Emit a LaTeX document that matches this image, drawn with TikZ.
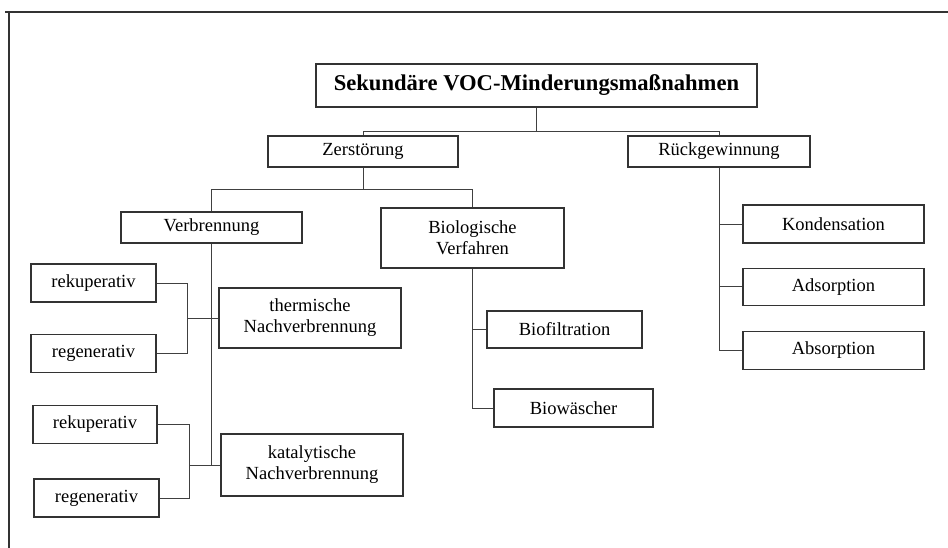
\documentclass[tikz,border=0pt]{standalone}
\usepackage{fontspec}
\setmainfont{Liberation Serif}
\usetikzlibrary{positioning}

\begin{document}
\begin{tikzpicture}[x=1pt,y=-1pt,
	every node/.style={font=\fontsize{18.5}{21}\selectfont},
	box/.style={draw=black!80,line width=1.1pt,align=center,inner sep=0pt},
	wide/.style={box,minimum width=182pt,minimum height=31pt},
	tall/.style={box,minimum width=182pt,minimum height=60pt},
	small/.style={box,minimum width=125pt,minimum height=38pt},
	conn/.style={draw=black!75,line width=0.9pt},
	hv/.style={to path={-| (\tikztotarget) \tikztonodes}},
	vh/.style={to path={|- (\tikztotarget) \tikztonodes}}]
	\useasboundingbox (0,0) rectangle (948,548);
	\draw[line width=1.1pt,black!80] (5,12) -- (948,12) (9,12) -- (9,548);

	\node[box,minimum width=441pt,minimum height=43pt,font=\fontsize{22.6}{26}\selectfont\bfseries] (title) at (536.5,85.5) {Sekundäre VOC-Minderungsmaßnahmen};
	\node[wide,minimum width=190pt] (zer) at (363,151.5) {Zerstörung};
	\node[wide] (rueck) at (719,151.5) {Rückgewinnung};
	\node[wide,minimum width=181pt] (verb) at (211.5,227.5) {Verbrennung};
	\node[tall,minimum width=183pt] (bio) at (472.5,238) {Biologische\\Verfahren};
	\node[tall] (therm) at (310,318) {thermische\\Nachverbrennung};
	\node[tall,minimum height=62pt] (kat) at (312,465) {katalytische\\Nachverbrennung};

	\node[small] (rek1) at (93.5,283) {rekuperativ};
	\node[small] (reg1) [below=31pt of rek1] {regenerativ};
	\node[small,minimum width=124pt] (rek2) at (95,424.5) {rekuperativ};
	\node[small] (reg2) at (96.5,498) {regenerativ};

	\node[small,minimum width=155pt,minimum height=37pt] (biofil) at (564.5,329.5) {Biofiltration};
	\node[small,minimum width=159pt] (biow) at (573.5,408) {Biowäscher};

	\node[small,minimum width=181pt] (kond) at (833.5,224) {Kondensation};
	\node[small,minimum width=181pt,minimum height=37pt] (ads) [below=24pt of kond] {Adsorption};
	\node[small,minimum width=181pt] (abs) [below=25pt of ads] {Absorption};

	\coordinate (j0) at (536.5,131);
	\coordinate (j1) at (363,189);
	\coordinate (k1) at ([xshift=-31pt]therm.west);
	\coordinate (k2) at ([xshift=-31pt]kat.west);

	\path[conn]
	(title) edge (j0)
	(j0) edge[hv] (zer.north)
	(j0) edge[hv] (rueck.north)
	(zer) edge (j1)
	(j1) edge[hv] (verb.north)
	(j1) edge[hv] (bio.north)

	(verb.south) edge[vh] (kat.west)
	(k1) edge (therm.west)
	(k2) edge (kat.west)
	(rek1.east) edge[hv] (k1)
	(reg1.east) edge[hv] (k1)
	(rek2.east) edge[hv] (k2)
	(reg2.east) edge[hv] (k2)

	(bio.south) edge[vh] (biow.west)
	(bio.south |- biofil.west) edge (biofil.west)

	(rueck.south) edge[vh] (abs.west)
	(rueck.south |- kond.west) edge (kond.west)
	(rueck.south |- ads.west) edge (ads.west)
	;
\end{tikzpicture}
\end{document}
